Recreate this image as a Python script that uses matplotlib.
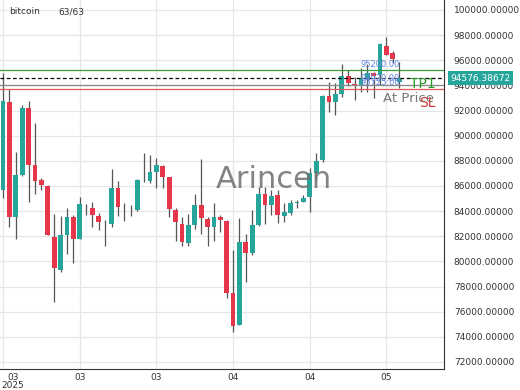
import matplotlib
matplotlib.use("Agg")
import matplotlib.pyplot as plt
import matplotlib.transforms as mtransforms
import numpy as np

# --- daily candles (Mar 2 .. May 3, 2025) ---
opens = [85681, 92705, 83510, 86874, 92204, 87670, 86477, 86000, 81966, 79317,
         82101, 83533, 81783, 84420, 84273, 83613, 82990, 82976, 85840, 84340,
         84310, 84090, 86390, 86421, 87089, 87614, 86715, 84090, 82953, 81441,
         82897, 84488, 83374, 82714, 83557, 83215, 77464, 74942, 81568, 80645,
         82897, 85339, 84488, 85283, 83613, 83875, 84623, 84750, 85100, 87057,
         88068, 93159, 92705, 93294, 94750, 94089, 93954, 94567, 94964, 94829,
         97113, 96603, 94300]
highs = [94990, 93700, 88728, 92443, 92760, 91011, 86636, 86079, 83772, 83613,
         84249, 83692, 85148, 84567, 84750, 83875, 83295, 87352, 86397, 84650,
         84488, 86556, 88601, 88465, 88227, 87670, 86739, 84249, 83557, 83772,
         85363, 88123, 83557, 84623, 83692, 83295, 80908, 83430, 82181, 84090,
         85943, 85943, 85681, 85681, 84623, 84886, 84886, 85283, 87407, 88601,
         93238, 94296, 94169, 95704, 95227, 94694, 95362, 95704, 95092, 97350,
         97876, 96762, 95887]
lows = [85045, 82761, 81783, 86800, 84750, 85363, 85681, 82101, 76795, 79182,
        80590, 79898, 81783, 83692, 82761, 82499, 81226, 82761, 83613, 83200,
        83613, 84034, 86317, 86262, 85864, 85864, 83557, 81648, 81226, 81226,
        82555, 82157, 81226, 81648, 82364, 77066, 74409, 74942, 78386, 80510,
        82841, 82976, 83692, 83032, 83159, 83692, 84225, 84750, 83955, 86477,
        87932, 91910, 91647, 93103, 93954, 92841, 93501, 93501, 92976, 94000,
        96453, 95760, 93771]
closes = [92785, 83510, 86874, 92204, 87670, 86421, 86079, 82101, 79476, 82101,
          83533, 81783, 84567, 84380, 83692, 83135, 82960, 85864, 84353, 84320,
          84290, 86477, 86370, 87113, 87670, 86739, 84193, 83135, 81521, 82897,
          84488, 83478, 82714, 83557, 83295, 77464, 74886, 81568, 80669, 82897,
          85339, 84488, 85227, 83692, 83955, 84671, 84750, 85068, 87057, 88012,
          93159, 92705, 93294, 94750, 94217, 93954, 94567, 95012, 94750, 97271,
          96453, 96078, 94576.38672]

# --- levels ---
tp1 = 95200.00
at_price = 94020.00
sl = 93725.00
last_price = 94576.38672

y_ticks = list(range(72000, 100001, 2000))
x_tick_pos = [0, 12, 24, 36, 48, 60]
x_tick_labels = ["03\n2025", "03", "03", "04", "04", "05"]

GREEN = "#26a69a"
RED = "#e5364a"

fig = plt.figure(figsize=(5.2, 3.9), dpi=100)
ax = fig.add_axes([0.0, 21 / 390, 444 / 520, 369 / 390])

x = np.arange(len(opens))
for i in x:
    o, h, l, c = opens[i], highs[i], lows[i], closes[i]
    col = GREEN if c >= o else RED
    ax.vlines(i, l, h, color="#555555", linewidth=0.9, zorder=2)
    body = max(abs(c - o), 40)
    ax.bar(i, body, bottom=min(o, c), width=0.75, color=col, zorder=3,
           linewidth=0)

# horizontal levels
ax.axhline(tp1, color="#3c9c3c", linewidth=0.9, zorder=4)
ax.axhline(last_price, color="black", linewidth=0.9, linestyle=(0, (3, 2)), zorder=4)
ax.axhline(at_price, color="#8a8a8a", linewidth=0.9, zorder=4)
ax.axhline(sl, color="#dc5a5a", linewidth=0.9, zorder=4)

ax.set_xlim(-0.47, 69.0)
ax.set_ylim(71442, 100795)

ax.set_yticks(y_ticks)
ax.set_yticklabels([f"{v:.5f}" for v in y_ticks])
ax.yaxis.tick_right()
ax.set_xticks(x_tick_pos)
ax.set_xticklabels(x_tick_labels)
ax.tick_params(axis="y", length=0, pad=7, labelsize=6.5, labelcolor="#333333")
ax.tick_params(axis="x", length=0, pad=3, labelsize=6.5, labelcolor="#333333")
first = ax.get_xticklabels()[0]
first.set_transform(first.get_transform() +
                    mtransforms.ScaledTranslation(10 / 100, 0, fig.dpi_scale_trans))
first.set_linespacing(0.9)

ax.grid(True, color="#e6e6e6", linewidth=0.9, zorder=0)
ax.set_axisbelow(True)
for side in ["left", "top"]:
    ax.spines[side].set_visible(False)
ax.spines["right"].set_color("#333333")
ax.spines["bottom"].set_color("#333333")

# header text
ax.text(9 / 444, 1 - 12 / 369, "bitcoin", transform=ax.transAxes,
        fontsize=6.5, color="#333333", va="center", ha="left")
ax.text(58 / 444, 1 - 12 / 369, "63/63", transform=ax.transAxes,
        fontsize=6.5, color="#333333", va="center", ha="left")

# watermark
ax.text(274 / 444, 1 - 180 / 369, "Arincen", transform=ax.transAxes,
        fontsize=22, color="#6e6e6e", alpha=0.85, ha="center", va="center", zorder=5)

# level labels
ax.text(59.0, tp1 + 500, "95200.00", fontsize=6, color="#5f82de", ha="center",
        va="center", zorder=6)
ax.text(59.0, at_price + 540, "94020.00", fontsize=6, color="#5f82de", ha="center",
        va="center", zorder=6)
ax.text(59.0, sl + 540, "93725.00", fontsize=6, color="#5f82de", ha="center",
        va="center", zorder=6)
ax.text(63.7, 94080, "TP1", fontsize=10, color="#2b9a2b", ha="left", va="center", zorder=6)
ax.text(59.5, 92940, "At Price", fontsize=9.5, color="#777777", ha="left", va="center", zorder=6)
ax.text(65.1, 92630, "SL", fontsize=10, color="#d33a3a", ha="left", va="center", zorder=6)

# last price box
trans = mtransforms.blended_transform_factory(ax.transAxes, ax.transData)
ax.text(1.015, last_price, f"{last_price:.5f}", transform=trans, fontsize=6.5,
        color="white", ha="left", va="center", zorder=7, clip_on=False,
        bbox=dict(boxstyle="square,pad=0.25", facecolor=GREEN, edgecolor="none"))

fig.savefig("out.png", dpi=100)
